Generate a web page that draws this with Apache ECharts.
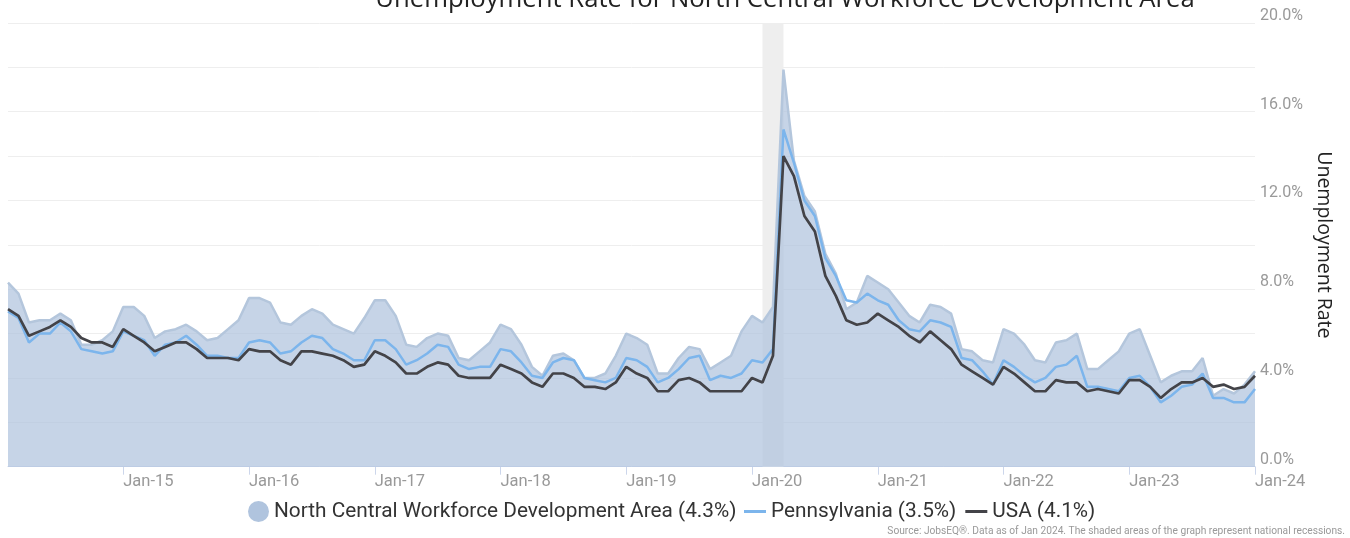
<!DOCTYPE html>
<html>
<head>
<meta charset="utf-8">
<script src="https://cdn.jsdelivr.net/npm/echarts@6/dist/echarts.min.js"></script>
<style>
  html, body { margin: 0; padding: 0; background: #fff; }
  #chart { width: 1350px; height: 538px; }
</style>
</head>
<body>
<div id="chart"></div>
<script>
// monthly, Feb 2014 .. Jan 2024
var monthNames = ["Jan", "Feb", "Mar", "Apr", "May", "Jun", "Jul", "Aug", "Sep", "Oct", "Nov", "Dec"];
var categories = [];
for (var y = 2014; y <= 2024; y++) {
	for (var m = 0; m < 12; m++) {
		if (y == 2014 && m == 0) continue;
		if (y == 2024 && m > 0) break;
		categories.push(monthNames[m] + "-" + String(y).slice(2));
	}
}

var regionName = "North Central Workforce Development Area (4.3%)";
var paName = "Pennsylvania (3.5%)";
var usaName = "USA (4.1%)";

var regionValues = [
	8.3, 7.8, 6.5, 6.6, 6.6, 6.9, 6.6, 5.5, 5.5, 5.7, 6.1, 7.2, 7.2, 6.8, 5.8, 6.1, 6.2, 6.4, 6.1, 5.7, 5.8, 6.2, 6.6, 7.6, 7.6, 7.4, 6.5, 6.4, 6.8, 7.1,
	6.9, 6.4, 6.2, 6.0, 6.7, 7.5, 7.5, 6.8, 5.5, 5.4, 5.8, 6.0, 5.9, 4.9, 4.8, 5.2, 5.6, 6.4, 6.2, 5.5, 4.5, 4.1, 5.0, 5.1, 4.8, 4.0, 4.0, 4.2, 5.0, 6.0,
	5.8, 5.5, 4.2, 4.2, 4.9, 5.4, 5.3, 4.4, 4.7, 5.0, 6.1, 6.8, 6.5, 7.2, 17.9, 13.8, 12.2, 11.5, 9.6, 8.7, 7.1, 7.4, 8.6, 8.3, 8.0, 7.4, 6.8, 6.5, 7.3, 7.2,
	6.9, 5.3, 5.2, 4.8, 4.7, 6.2, 6.0, 5.5, 4.8, 4.7, 5.6, 5.7, 6.0, 4.4, 4.4, 4.8, 5.2, 6.0, 6.2, 5.0, 3.8, 4.1, 4.3, 4.3, 4.9, 3.2, 3.5, 3.3, 3.7, 4.3
];
var paValues = [
	7.0, 6.7, 5.6, 6.0, 6.0, 6.5, 6.1, 5.3, 5.2, 5.1, 5.2, 6.1, 5.9, 5.7, 5.0, 5.5, 5.6, 5.9, 5.5, 5.0, 5.0, 4.9, 4.9, 5.6, 5.7, 5.6, 5.1, 5.2, 5.6, 5.9,
	5.8, 5.3, 5.1, 4.8, 4.8, 5.7, 5.7, 5.3, 4.6, 4.8, 5.1, 5.5, 5.4, 4.6, 4.4, 4.5, 4.5, 5.3, 5.2, 4.7, 4.1, 4.0, 4.7, 4.9, 4.8, 4.0, 3.9, 3.8, 4.0, 4.9,
	4.8, 4.5, 3.8, 4.0, 4.4, 4.9, 5.0, 3.9, 4.1, 4.0, 4.2, 4.8, 4.7, 5.3, 15.2, 13.7, 12.0, 11.3, 9.4, 8.6, 7.5, 7.4, 7.8, 7.5, 7.3, 6.6, 6.2, 6.1, 6.6, 6.5,
	6.3, 4.9, 4.8, 4.3, 3.7, 4.8, 4.5, 4.1, 3.8, 4.0, 4.5, 4.6, 5.0, 3.6, 3.6, 3.5, 3.4, 4.0, 4.1, 3.6, 2.9, 3.2, 3.6, 3.7, 4.2, 3.1, 3.1, 2.9, 2.9, 3.5
];
var usaValues = [
	7.1, 6.8, 5.9, 6.1, 6.3, 6.6, 6.3, 5.8, 5.6, 5.6, 5.4, 6.2, 5.9, 5.6, 5.2, 5.4, 5.6, 5.6, 5.3, 4.9, 4.9, 4.9, 4.8, 5.3, 5.2, 5.2, 4.8, 4.6, 5.2, 5.2,
	5.1, 5.0, 4.8, 4.5, 4.6, 5.2, 5.0, 4.7, 4.2, 4.2, 4.5, 4.7, 4.6, 4.1, 4.0, 4.0, 4.0, 4.6, 4.4, 4.2, 3.8, 3.6, 4.2, 4.2, 4.0, 3.6, 3.6, 3.5, 3.8, 4.5,
	4.2, 4.0, 3.4, 3.4, 3.9, 4.0, 3.8, 3.4, 3.4, 3.4, 3.4, 4.0, 3.8, 5.0, 14.0, 13.1, 11.3, 10.6, 8.6, 7.7, 6.6, 6.4, 6.5, 6.9, 6.6, 6.3, 5.9, 5.6, 6.1, 5.7,
	5.3, 4.6, 4.3, 4.0, 3.7, 4.5, 4.2, 3.8, 3.4, 3.4, 3.9, 3.8, 3.8, 3.4, 3.5, 3.4, 3.3, 3.9, 3.9, 3.6, 3.1, 3.5, 3.8, 3.8, 4.0, 3.6, 3.7, 3.5, 3.6, 4.1
];
var recessions = [["Feb-20", "Apr-20"]];

var chart = echarts.init(document.getElementById("chart"));

function isJan(idx, val) {
	return String(val).indexOf("Jan") == 0;
}

var legendText = { fontFamily: "Roboto", fontSize: 20.8, color: "#333" };

chart.setOption({
	animation: false,
	title: {
		text: "Unemployment Rate for North Central Workforce Development Area",
		left: 780,
		textAlign: "center",
		top: -18,
		textStyle: { fontFamily: "Open Sans", fontSize: 25.7, fontWeight: "normal", color: "#222" }
	},
	grid: { left: 8, right: 95, top: 23, bottom: 71.3 },
	legend: [{
		left: 243,
		top: 496,
		itemWidth: 21,
		itemHeight: 21,
		textStyle: legendText,
		data: [{ name: regionName, icon: "circle" }]
	}, {
		left: 739,
		top: 496,
		itemWidth: 22,
		itemHeight: 3,
		itemGap: 9,
		icon: "rect",
		textStyle: legendText,
		data: [paName, usaName]
	}],
	xAxis: {
		type: "category",
		data: categories,
		boundaryGap: false,
		axisLine: { lineStyle: { color: "#ccd6eb" } },
		axisTick: { interval: isJan, length: 8, lineStyle: { color: "#ccd6eb" } },
		axisLabel: {
			interval: isJan,
			align: "left",
			margin: 7,
			fontFamily: "Roboto",
			fontSize: 16.5,
			color: "#999"
		},
		splitLine: { show: false }
	},
	yAxis: {
		type: "value",
		position: "right",
		min: 0,
		max: 20,
		interval: 2,
		name: "Unemployment Rate",
		nameLocation: "middle",
		nameRotate: -90,
		nameGap: 57,
		nameTextStyle: { fontFamily: "Open Sans", fontSize: 19.5, color: "#222" },
		axisLine: { show: false },
		axisTick: { show: false },
		axisLabel: {
			margin: 5,
			verticalAlign: "bottom",
			lineHeight: 14,
			fontFamily: "Roboto",
			fontSize: 16,
			color: "#999",
			formatter: function(v) {
				return v % 4 == 0 ? v.toFixed(1) + "%" : "";
			}
		},
		splitLine: { lineStyle: { color: "#eeeeee", width: 1 } }
	},
	series: [{
		name: "recession",
		type: "line",
		data: [],
		z: 1,
		markArea: {
			silent: true,
			itemStyle: { color: "#eeeeee" },
			data: recessions.map(function(r) {
				return [{ xAxis: r[0] }, { xAxis: r[1] }];
			})
		}
	}, {
		name: regionName,
		type: "line",
		data: regionValues,
		symbol: "none",
		z: 2,
		itemStyle: { color: "#b0c4de" },
		lineStyle: { color: "#b4c6dc", width: 2.5 },
		areaStyle: { color: "#b0c4de", opacity: 0.72 }
	}, {
		name: paName,
		type: "line",
		data: paValues,
		symbol: "none",
		z: 3,
		itemStyle: { color: "#7cb5ec" },
		lineStyle: { color: "#7cb5ec", width: 2.5 }
	}, {
		name: usaName,
		type: "line",
		data: usaValues,
		symbol: "none",
		z: 4,
		itemStyle: { color: "#434348" },
		lineStyle: { color: "#434348", width: 2.7 }
	}],
	graphic: [{
		type: "text",
		right: 5,
		top: 526,
		style: {
			text: "Source: JobsEQ®. Data as of Jan 2024. The shaded areas of the graph represent national recessions.",
			fontFamily: "Roboto",
			fontSize: 10.2,
			fill: "#999"
		}
	}]
});
</script>
</body>
</html>
